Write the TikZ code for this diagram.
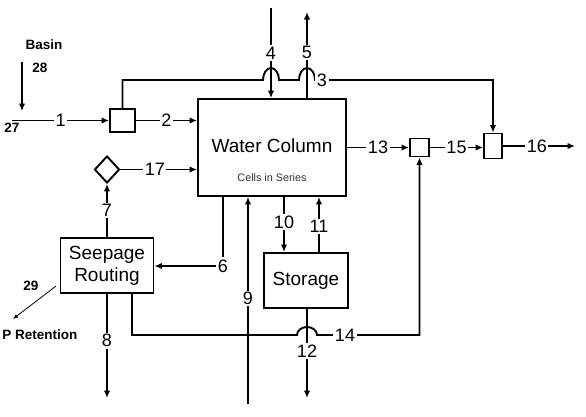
\documentclass[tikz,border=0pt]{standalone}
\usepackage{fontspec}
\setmainfont{Liberation Sans}
\usetikzlibrary{arrows.meta,calc,positioning,shapes.geometric}

\begin{document}
\begin{tikzpicture}[x=1pt,y=-1pt,>={Latex[length=7.5pt,width=6.5pt]},line width=1.9pt,
 blk/.style={draw,align=center,inner sep=0pt,font=\fontsize{19}{22}\selectfont},
 mixbox/.style={draw,inner sep=0pt},
 lbl/.style={fill=white,inner sep=1.5pt},
 note/.style={font=\bfseries\fontsize{13.5}{15}\selectfont},
 every node/.style={font=\fontsize{18}{20}\selectfont}]
 \useasboundingbox (0,0) rectangle (586,416);
 % blocks
 \node[blk,minimum width=148pt,minimum height=97pt] (wc) at (272,147.5) {};
 \node[font=\fontsize{19}{21}\selectfont] (wctxt) at (272,146) {Water Column};
 \node[font=\fontsize{10.8}{12}\selectfont,text=black!80] (wcsub) at (272,177.5) {Cells in Series};
 \node[blk,minimum width=93pt,minimum height=55pt] (seep) at (107,265.5) {Seepage\\Routing};
 \node[blk,minimum width=84pt,minimum height=55pt] (storage) at (306,280.5) {Storage};
 \node[mixbox,minimum width=25pt,minimum height=23pt] (mix1) at (122.5,120.5) {};
 \node[mixbox,minimum width=19pt,minimum height=18pt] (mix2) at (419.5,147.5) {};
 \node[mixbox,minimum width=18pt,minimum height=25pt] (mix3) at (493,146) {};
 \node[draw,diamond,aspect=1,inner sep=0pt,minimum width=25pt,minimum height=27pt] (dia) at (107,169.5) {};
 % free ends
 \coordinate (in27) at (12,120.5);
 \coordinate (in4) at (271,8);
 \coordinate (out5) at (307,12);
 \coordinate (in9) at (248,404);
 \coordinate (x10) at (284,0);
 \coordinate (x11) at (319,0);
 \coordinate (x14) at (132,0);
 \coordinate (out8) at (107,398);
 \coordinate (out12) at (307,398);
 \coordinate (out16) at (575,146);
 \coordinate (b0) at (22,62);
 \coordinate (b1) at (22,111);
 \coordinate (r0) at (56,286);
 \coordinate (r1) at (13,319);
 % flows
 \draw[->] (in27) -- (mix1) node[lbl,pos=.5] {1};
 \draw[->] (mix1) -- (wc.west |- mix1) node[lbl,midway] {2};
 \draw[->] (mix1) |- (263,80) arc[start angle=180,end angle=0,x radius=8pt,y radius=12pt]
   -- (299,80) arc[start angle=180,end angle=0,x radius=8pt,y radius=12pt] -| (mix3);
 \node[lbl] (n3) at (322,80) {3};
 \draw[->] (in4) -- (in4 |- wc.north) node[lbl,pos=.5] {4};
 \draw[->] (out5 |- wc.north) -- (out5) node[lbl,pos=.53] {5};
 \node[lbl] (n6) at (223,266) {6};
 \draw (n6 |- wc.south) -- (n6);
 \draw[->] (n6) -- (n6 -| seep.east);
 \draw[->] (seep) -- (dia) node[lbl,pos=.5] {7};
 \draw[->] (seep) -- (out8) node[lbl,pos=.45] {8};
 \draw[->] (in9) -- (in9 |- wc.south) node[lbl,pos=.51] {9};
 \draw[->] (x10 |- wc.south) -- (x10 |- storage.north) node[lbl,pos=.46] {10};
 \draw[->] (x11 |- storage.north) -- (x11 |- wc.south) node[lbl,pos=.46] {11};
 \draw[->] (out12 |- storage.south) -- (out12) node[lbl,pos=.47] {12};
 \draw[->] (x14 |- seep.south) -- (132,335) -- (297,335)
   arc[start angle=180,end angle=0,x radius=10pt,y radius=8pt] -| (mix2);
 \node[lbl] (n14) at (345,335) {14};
 \draw[->] (wc.east |- mix2) -- (mix2) node[lbl,midway] {13};
 \draw[->] (mix2) -- (mix2 -| mix3.west) node[lbl,midway] {15};
 \draw[->] (mix3) -- (out16) node[lbl,pos=.47] {16};
 \draw[->] (dia) -- (dia -| wc.west) node[lbl,pos=.45] {17};
 % basin and retention
 \node[note] (basin) at (44,45) {Basin};
 \node[note] (n28) at (40,68) {28};
 \node[note] (n27) at (12,128) {27};
 \draw[->,line width=1.4pt] (b0) -- (b1);
 \node[note] (n29) at (31,286) {29};
 \node[note] (pret) at (40,335) {P Retention};
 \draw[-{Latex[length=5pt,width=4pt]},line width=.8pt] (r0) -- (r1);
\end{tikzpicture}
\end{document}
